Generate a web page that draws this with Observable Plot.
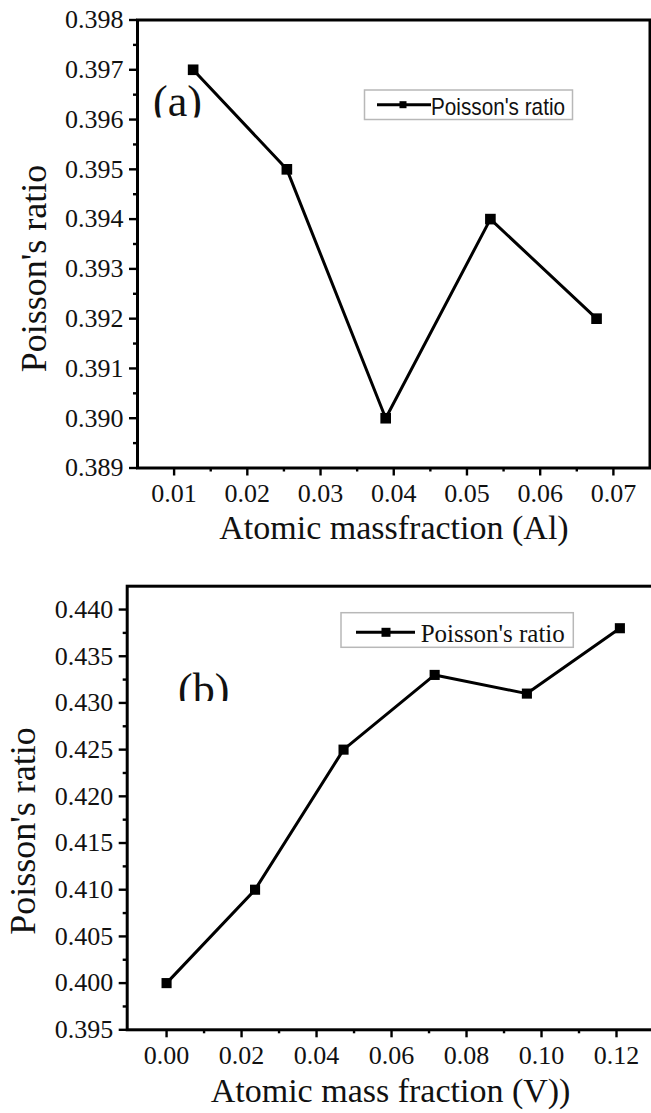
<!DOCTYPE html>
<html><head><meta charset="utf-8">
<script src="https://cdn.jsdelivr.net/npm/d3@7"></script>
<script src="https://cdn.jsdelivr.net/npm/@observablehq/plot@0.6"></script>
<style>
body{margin:0;background:#fff;width:651px;height:1113px;overflow:hidden;position:relative}
#a{position:absolute;left:0;top:0}
#b{position:absolute;left:0;top:560px}
</style></head><body>
<div id="a"></div><div id="b"></div>
<script>
// Panel (a): Al
const alFraction = [0.0126, 0.0254, 0.0389, 0.0532, 0.0677];
const alPoisson = [0.397, 0.395, 0.390, 0.394, 0.392];
const alXTicks = [0.01, 0.02, 0.03, 0.04, 0.05, 0.06, 0.07];
const alXMinor = [0.015, 0.025, 0.035, 0.045, 0.055, 0.065];
const alYTicks = [0.389, 0.390, 0.391, 0.392, 0.393, 0.394, 0.395, 0.396, 0.397, 0.398];
const alYMinor = [0.3895, 0.3905, 0.3915, 0.3925, 0.3935, 0.3945, 0.3955, 0.3965, 0.3975];

// Panel (b): V
const vFraction = [0.0, 0.0236, 0.0472, 0.0715, 0.0961, 0.1209];
const vPoisson = [0.400, 0.410, 0.425, 0.433, 0.431, 0.438];
const vXTicks = [0.00, 0.02, 0.04, 0.06, 0.08, 0.10, 0.12];
const vXMinor = [0.01, 0.03, 0.05, 0.07, 0.09, 0.11];
const vYTicks = [0.395, 0.400, 0.405, 0.410, 0.415, 0.420, 0.425, 0.430, 0.435, 0.440];
const vYMinor = [0.3975, 0.4025, 0.4075, 0.4125, 0.4175, 0.4225, 0.4275, 0.4325, 0.4375];

const seriesName = "Poisson's ratio";
const yTitle = "Poisson's ratio";
const xTitleA = "Atomic massfraction (Al)";
const xTitleB = "Atomic mass fraction (V))";

const SERIF = "'Liberation Serif','Times New Roman',serif";
const SANS = "'Liberation Sans Narrow','Liberation Sans',Arial,sans-serif";

function makePanel(cfg) {
  const data = cfg.xs.map((x, i) => ({x, y: cfg.ys[i]}));
  return Plot.plot({
    width: 651, height: cfg.height,
    marginLeft: cfg.ml, marginRight: cfg.mr, marginTop: cfg.mt, marginBottom: cfg.mb,
    style: {background: "#fff", overflow: "hidden"},
    x: {domain: cfg.xDomain},
    y: {domain: cfg.yDomain},
    marks: [
      Plot.axisX(cfg.xTicks, {tickSize: 8, tickPadding: 8, strokeWidth: 2.4, tickFormat: d3.format(".2f"), label: null, fontSize: 26}),
      Plot.axisX(cfg.xMinor, {tickSize: 4, strokeWidth: 2.4, tickFormat: () => "", label: null}),
      Plot.axisY(cfg.yTicks, {tickSize: 8, tickPadding: 6, strokeWidth: 2.4, tickFormat: d3.format(".3f"), label: null, fontSize: 26}),
      Plot.axisY(cfg.yMinor, {tickSize: 4, strokeWidth: 2.4, tickFormat: () => "", label: null}),
      Plot.frame({stroke: "#000", strokeWidth: 3}),
      Plot.line(data, {x: "x", y: "y", stroke: "#000", strokeWidth: 3}),
      Plot.dot(data, {x: "x", y: "y", symbol: "square", fill: "#000", stroke: "none", r: cfg.r})
    ]
  });
}

function txt(sel, family, size, anchor) {
  return sel.style("font-family", family).style("font-size", size + "px")
    .attr("text-anchor", anchor).style("text-anchor", anchor).attr("fill", "#111");
}

function decorate(svg, d) {
  const s = d3.select(svg);
  s.selectAll("text").style("font-family", SERIF).attr("fill", "#111");
  const id = d.id;
  s.append("clipPath").attr("id", "clip" + id)
    .append("rect").attr("x", 0).attr("y", 0).attr("width", 651).attr("height", d.labelClip);
  txt(s.append("text").attr("clip-path", `url(#clip${id})`)
    .attr("x", d.labelX).attr("y", d.labelY), SERIF, 44, "start").text(d.label);
  // legend
  const g = s.append("g");
  g.append("rect").attr("x", d.lg.x).attr("y", d.lg.y).attr("width", d.lg.w).attr("height", d.lg.h)
    .attr("fill", "#fff").attr("stroke", "#b8b8b8").attr("stroke-width", 1.5);
  g.append("line").attr("x1", d.lg.l1).attr("x2", d.lg.l2).attr("y1", d.lg.ly).attr("y2", d.lg.ly)
    .attr("stroke", "#000").attr("stroke-width", 3);
  g.append("rect").attr("x", d.lg.mx - d.lg.ms / 2).attr("y", d.lg.ly - d.lg.ms / 2)
    .attr("width", d.lg.ms).attr("height", d.lg.ms).attr("fill", "#000");
  const t = txt(g.append("text").attr("x", d.lg.tx).attr("y", d.lg.ty), d.lg.font, d.lg.fs, "start")
    .text(seriesName);
  if (d.lg.tl) t.attr("textLength", d.lg.tl).attr("lengthAdjust", "spacingAndGlyphs");
  // y title
  txt(s.append("text").attr("transform", `translate(${d.yt.x},${d.yt.y}) rotate(-90)`), SERIF, 36, "middle")
    .text(yTitle);
  // x title
  txt(s.append("text").attr("x", d.xt.x).attr("y", d.xt.y), SERIF, 34, "middle").text(d.xt.text);
}

const svgA = makePanel({
  xs: alFraction, ys: alPoisson, height: 560,
  ml: 137, mr: 1.5, mt: 19.5, mb: 92.5,
  xDomain: [0.005, 0.075], yDomain: [0.389, 0.398],
  xTicks: alXTicks, xMinor: alXMinor, yTicks: alYTicks, yMinor: alYMinor, r: 6
});
document.getElementById("a").appendChild(svgA);
decorate(svgA, {
  id: "a", label: "(a)", labelX: 153, labelY: 116, labelClip: 117.5,
  lg: {x: 364.5, y: 90, w: 208, h: 29.5, l1: 377, l2: 431, ly: 104.7, mx: 403, ms: 7,
       tx: 431, ty: 115, font: SANS, fs: 24, tl: 134},
  yt: {x: 46, y: 268.5},
  xt: {x: 394, y: 539, text: xTitleA}
});

const svgB = makePanel({
  xs: vFraction, ys: vPoisson, height: 553,
  ml: 126.7, mr: -2.5, mt: 25.7, mb: 83.7,
  xDomain: [-0.0105, 0.13], yDomain: [0.395, 0.4425],
  xTicks: vXTicks, xMinor: vXMinor, yTicks: vYTicks, yMinor: vYMinor, r: 5.7
});
document.getElementById("b").appendChild(svgB);
decorate(svgB, {
  id: "b", label: "(b)", labelX: 178, labelY: 144, labelClip: 141,
  lg: {x: 341, y: 52.7, w: 232.3, h: 34.6, l1: 356, l2: 415, ly: 72.3, mx: 386, ms: 9,
       tx: 420.7, ty: 81.7, font: SERIF, fs: 25, tl: null},
  yt: {x: 35.3, y: 271},
  xt: {x: 390.6, y: 542, text: xTitleB}
});
</script>
</body></html>
